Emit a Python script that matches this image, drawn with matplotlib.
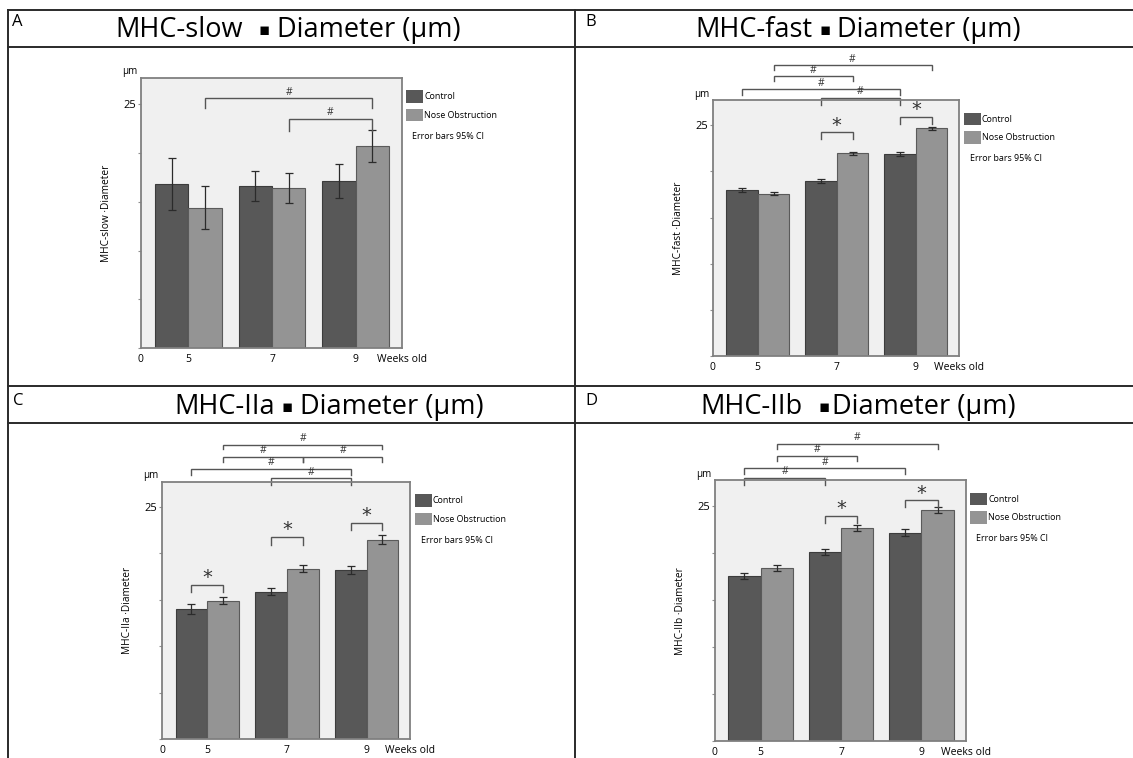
import numpy as np
import matplotlib
matplotlib.use("Agg")
import matplotlib.pyplot as plt
from matplotlib.patches import Rectangle
from matplotlib.lines import Line2D
from matplotlib.offsetbox import TextArea, HPacker, DrawingArea, AnnotationBbox

plt.rcParams['font.family'] = ['Open Sans', 'DejaVu Sans']

W, H = 1133, 758

weeks = ['5', '7', '9']
series_names = ['Control', 'Nose Obstruction']

slow_control = [16.8, 16.6, 17.1]
slow_control_ci = [2.65, 1.55, 1.75]
slow_nose = [14.4, 16.4, 20.7]
slow_nose_ci = [2.2, 1.55, 1.65]

fast_control = [18.0, 18.95, 21.87]
fast_control_ci = [0.2, 0.2, 0.2]
fast_nose = [17.6, 21.95, 24.65]
fast_nose_ci = [0.2, 0.2, 0.2]

iia_control = [14.0, 15.85, 18.2]
iia_control_ci = [0.5, 0.36, 0.43]
iia_nose = [14.9, 18.35, 21.45]
iia_nose_ci = [0.36, 0.36, 0.47]

iib_control = [17.55, 20.05, 22.15]
iib_control_ci = [0.28, 0.32, 0.35]
iib_nose = [18.4, 22.6, 24.55]
iib_nose_ci = [0.28, 0.32, 0.28]

C, N = 0, 1  # series index for brackets

CONTROL_COL = '#585858'
NOSE_COL = '#949494'
EDGE = '#3c3c3c'


def fx(px):
    return px / W


def fy(py):
    return 1 - py / H


panels = [
    dict(letter='A', letter_xy=(12, 22), title=('MHC-slow', 'Diameter (\u00b5m)'), gaps=(11, 5),
         title_xy=(288, 30),
         frame=(140.7, 77.7, 401.7, 348.3), ylabel='MHC-slow \u00b7Diameter',
         control=slow_control, control_ci=slow_control_ci, nose=slow_nose, nose_ci=slow_nose_ci,
         brackets=[((N, 0), (N, 2), 25.6, 1.0, '#'), ((N, 1), (N, 2), 23.5, 1.3, '#')]),
    dict(letter='B', letter_xy=(585, 22), title=('MHC-fast', 'Diameter (\u00b5m)'), gaps=(5, 5),
         title_xy=(858, 30),
         frame=(712.7, 100.3, 959.3, 356.0), ylabel='MHC-fast \u00b7Diameter',
         control=fast_control, control_ci=fast_control_ci, nose=fast_nose, nose_ci=fast_nose_ci,
         brackets=[((N, 0), (N, 2), 31.5, 0.5, '#'), ((N, 0), (N, 1), 30.3, 0.55, '#'),
                   ((C, 0), (C, 2), 28.9, 0.65, '#'), ((C, 1), (C, 2), 27.97, 0.75, '#'),
                   ((C, 1), (N, 1), 24.25, 0.75, '*'), ((C, 2), (N, 2), 25.9, 0.72, '*')]),
    dict(letter='C', letter_xy=(13, 401), title=('MHC-IIa', 'Diameter (\u00b5m)'), gaps=(5, 5),
         title_xy=(329, 407),
         frame=(162.0, 481.7, 410.3, 739.0), ylabel='MHC-IIa \u00b7Diameter',
         control=iia_control, control_ci=iia_control_ci, nose=iia_nose, nose_ci=iia_nose_ci,
         brackets=[((N, 0), (N, 2), 31.7, 0.5, '#'), ((N, 0), (N, 1), 30.4, 0.55, '#'),
                   ((N, 1), (N, 2), 30.4, 0.55, '#'),
                   ((C, 0), (C, 2), 29.1, 0.65, '#'), ((C, 1), (C, 2), 28.1, 0.75, '#'),
                   ((C, 0), (N, 0), 16.6, 0.8, '*'), ((C, 1), (N, 1), 21.76, 0.85, '*'),
                   ((C, 2), (N, 2), 23.27, 0.75, '*')]),
    dict(letter='D', letter_xy=(585, 401), title=('MHC-IIb', 'Diameter (\u00b5m)'), gaps=(11, 1.5),
         title_xy=(858, 407),
         frame=(714.7, 480.3, 965.7, 741.3), ylabel='MHC-IIb \u00b7Diameter',
         control=iib_control, control_ci=iib_control_ci, nose=iib_nose, nose_ci=iib_nose_ci,
         brackets=[((N, 0), (N, 2), 31.56, 0.5, '#'), ((N, 0), (N, 1), 30.3, 0.55, '#'),
                   ((C, 0), (C, 2), 29.0, 0.65, '#'), ((C, 0), (C, 1), 27.95, 0.75, '#'),
                   ((C, 1), (N, 1), 23.94, 0.75, '*'), ((C, 2), (N, 2), 25.6, 0.75, '*')]),
]

fig = plt.figure(figsize=(W / 100, H / 100), dpi=100)

# table grid lines
grid_kw = dict(color='#2a2a2a', lw=1.4, transform=fig.transFigure)
for yy in (10, 47, 386, 423):
    fig.add_artist(Line2D([fx(8), 1], [fy(yy), fy(yy)], **grid_kw))
fig.add_artist(Line2D([fx(8), fx(8)], [fy(10), 0], **grid_kw))
fig.add_artist(Line2D([fx(575), fx(575)], [fy(10), 0], **grid_kw))

XLO, XHI = -0.55, 2.55
YTOP = 27.7
BW = 0.4


def add_title(left, right, gaps, xy):
    parts = [TextArea(left, textprops=dict(fontsize=19.5)),
             DrawingArea(gaps[0], 1),
             TextArea('\u25aa', textprops=dict(fontsize=12, family='DejaVu Sans')),
             DrawingArea(gaps[1], 1),
             TextArea(right, textprops=dict(fontsize=19.5))]
    box = HPacker(children=parts, align='center', pad=0, sep=0)
    ab = AnnotationBbox(box, (fx(xy[0]), fy(xy[1])), xycoords='figure fraction',
                        frameon=False, box_alignment=(0.5, 0.5), pad=0)
    fig.add_artist(ab)


for p in panels:
    fig.text(fx(p['letter_xy'][0]), fy(p['letter_xy'][1]), p['letter'], fontsize=12,
             ha='left', va='center')
    add_title(p['title'][0], p['title'][1], p['gaps'], p['title_xy'])

    l, t, r, b = p['frame']
    ax = fig.add_axes([fx(l), fy(b), (r - l) / W, (b - t) / H])
    ax.set_facecolor('#f0f0f0')
    for s in ax.spines.values():
        s.set_color('#808080')
        s.set_linewidth(1.3)

    x = np.arange(len(weeks))
    ax.bar(x - BW / 2, p['control'], BW, color=CONTROL_COL, edgecolor=EDGE, linewidth=0.8)
    ax.bar(x + BW / 2, p['nose'], BW, color=NOSE_COL, edgecolor='#5a5a5a', linewidth=0.8)
    ax.errorbar(x - BW / 2, p['control'], yerr=p['control_ci'], fmt='none', ecolor='#2b2b2b',
                elinewidth=0.9, capsize=3, capthick=0.9)
    ax.errorbar(x + BW / 2, p['nose'], yerr=p['nose_ci'], fmt='none', ecolor='#2b2b2b',
                elinewidth=0.9, capsize=3, capthick=0.9)

    ax.set_xlim(XLO, XHI)
    ax.set_ylim(0, YTOP)
    ax.set_yticks([0, 5, 10, 15, 20, 25])
    ax.set_yticklabels(['', '', '', '', '', '25'])
    ax.tick_params(axis='y', length=2.5, width=0.8, color='#909090', labelsize=8, pad=1)
    ax.set_xticks([XLO - 0.02, 0, 1, 2, XHI])
    ax.set_xticklabels(['0'] + weeks + ['Weeks old'])
    ax.tick_params(axis='x', length=0, labelsize=7.5, pad=4)

    ax.set_ylabel(p['ylabel'], fontsize=7.3)
    ax.yaxis.set_label_coords(-29 / (r - l), 0.5)
    ax.text(-11 / (r - l), 1 + 6 / (b - t), '\u00b5m', transform=ax.transAxes, fontsize=7,
            ha='center', va='center')

    # significance brackets
    for (s1, g1), (s2, g2), yy, d, mark in p['brackets']:
        x1 = g1 + (BW / 2 if s1 == N else -BW / 2)
        x2 = g2 + (BW / 2 if s2 == N else -BW / 2)
        ax.plot([x1, x1, x2, x2], [yy - d, yy, yy, yy - d], color='#555555', lw=1.0,
                clip_on=False, solid_joinstyle='miter')
        if mark == '#':
            ax.text((x1 + x2) / 2, yy + 0.05, '#', fontsize=7.5, ha='center', va='bottom',
                    color='#333333', clip_on=False)
        else:
            ax.text((x1 + x2) / 2, yy + 0.75, '*', fontsize=14, ha='center', va='center',
                    color='#333333', clip_on=False, family='DejaVu Sans')

    # legend drawn beside the frame
    lx, ly = r + 4.5, t + 12.5
    for i, (name, col) in enumerate(zip(series_names, [CONTROL_COL, NOSE_COL])):
        top = ly + i * 18.5
        fig.add_artist(Rectangle((fx(lx), fy(top + 12.5)), 17 / W, 12.5 / H, facecolor=col,
                                 edgecolor='none', transform=fig.transFigure))
        fig.text(fx(lx + 18), fy(top + 6.5), name, fontsize=6.4, ha='left', va='center')
    fig.text(fx(lx + 6), fy(ly + 46), 'Error bars 95% CI', fontsize=6.4, ha='left', va='center')

fig.savefig('out.png', dpi=100)
